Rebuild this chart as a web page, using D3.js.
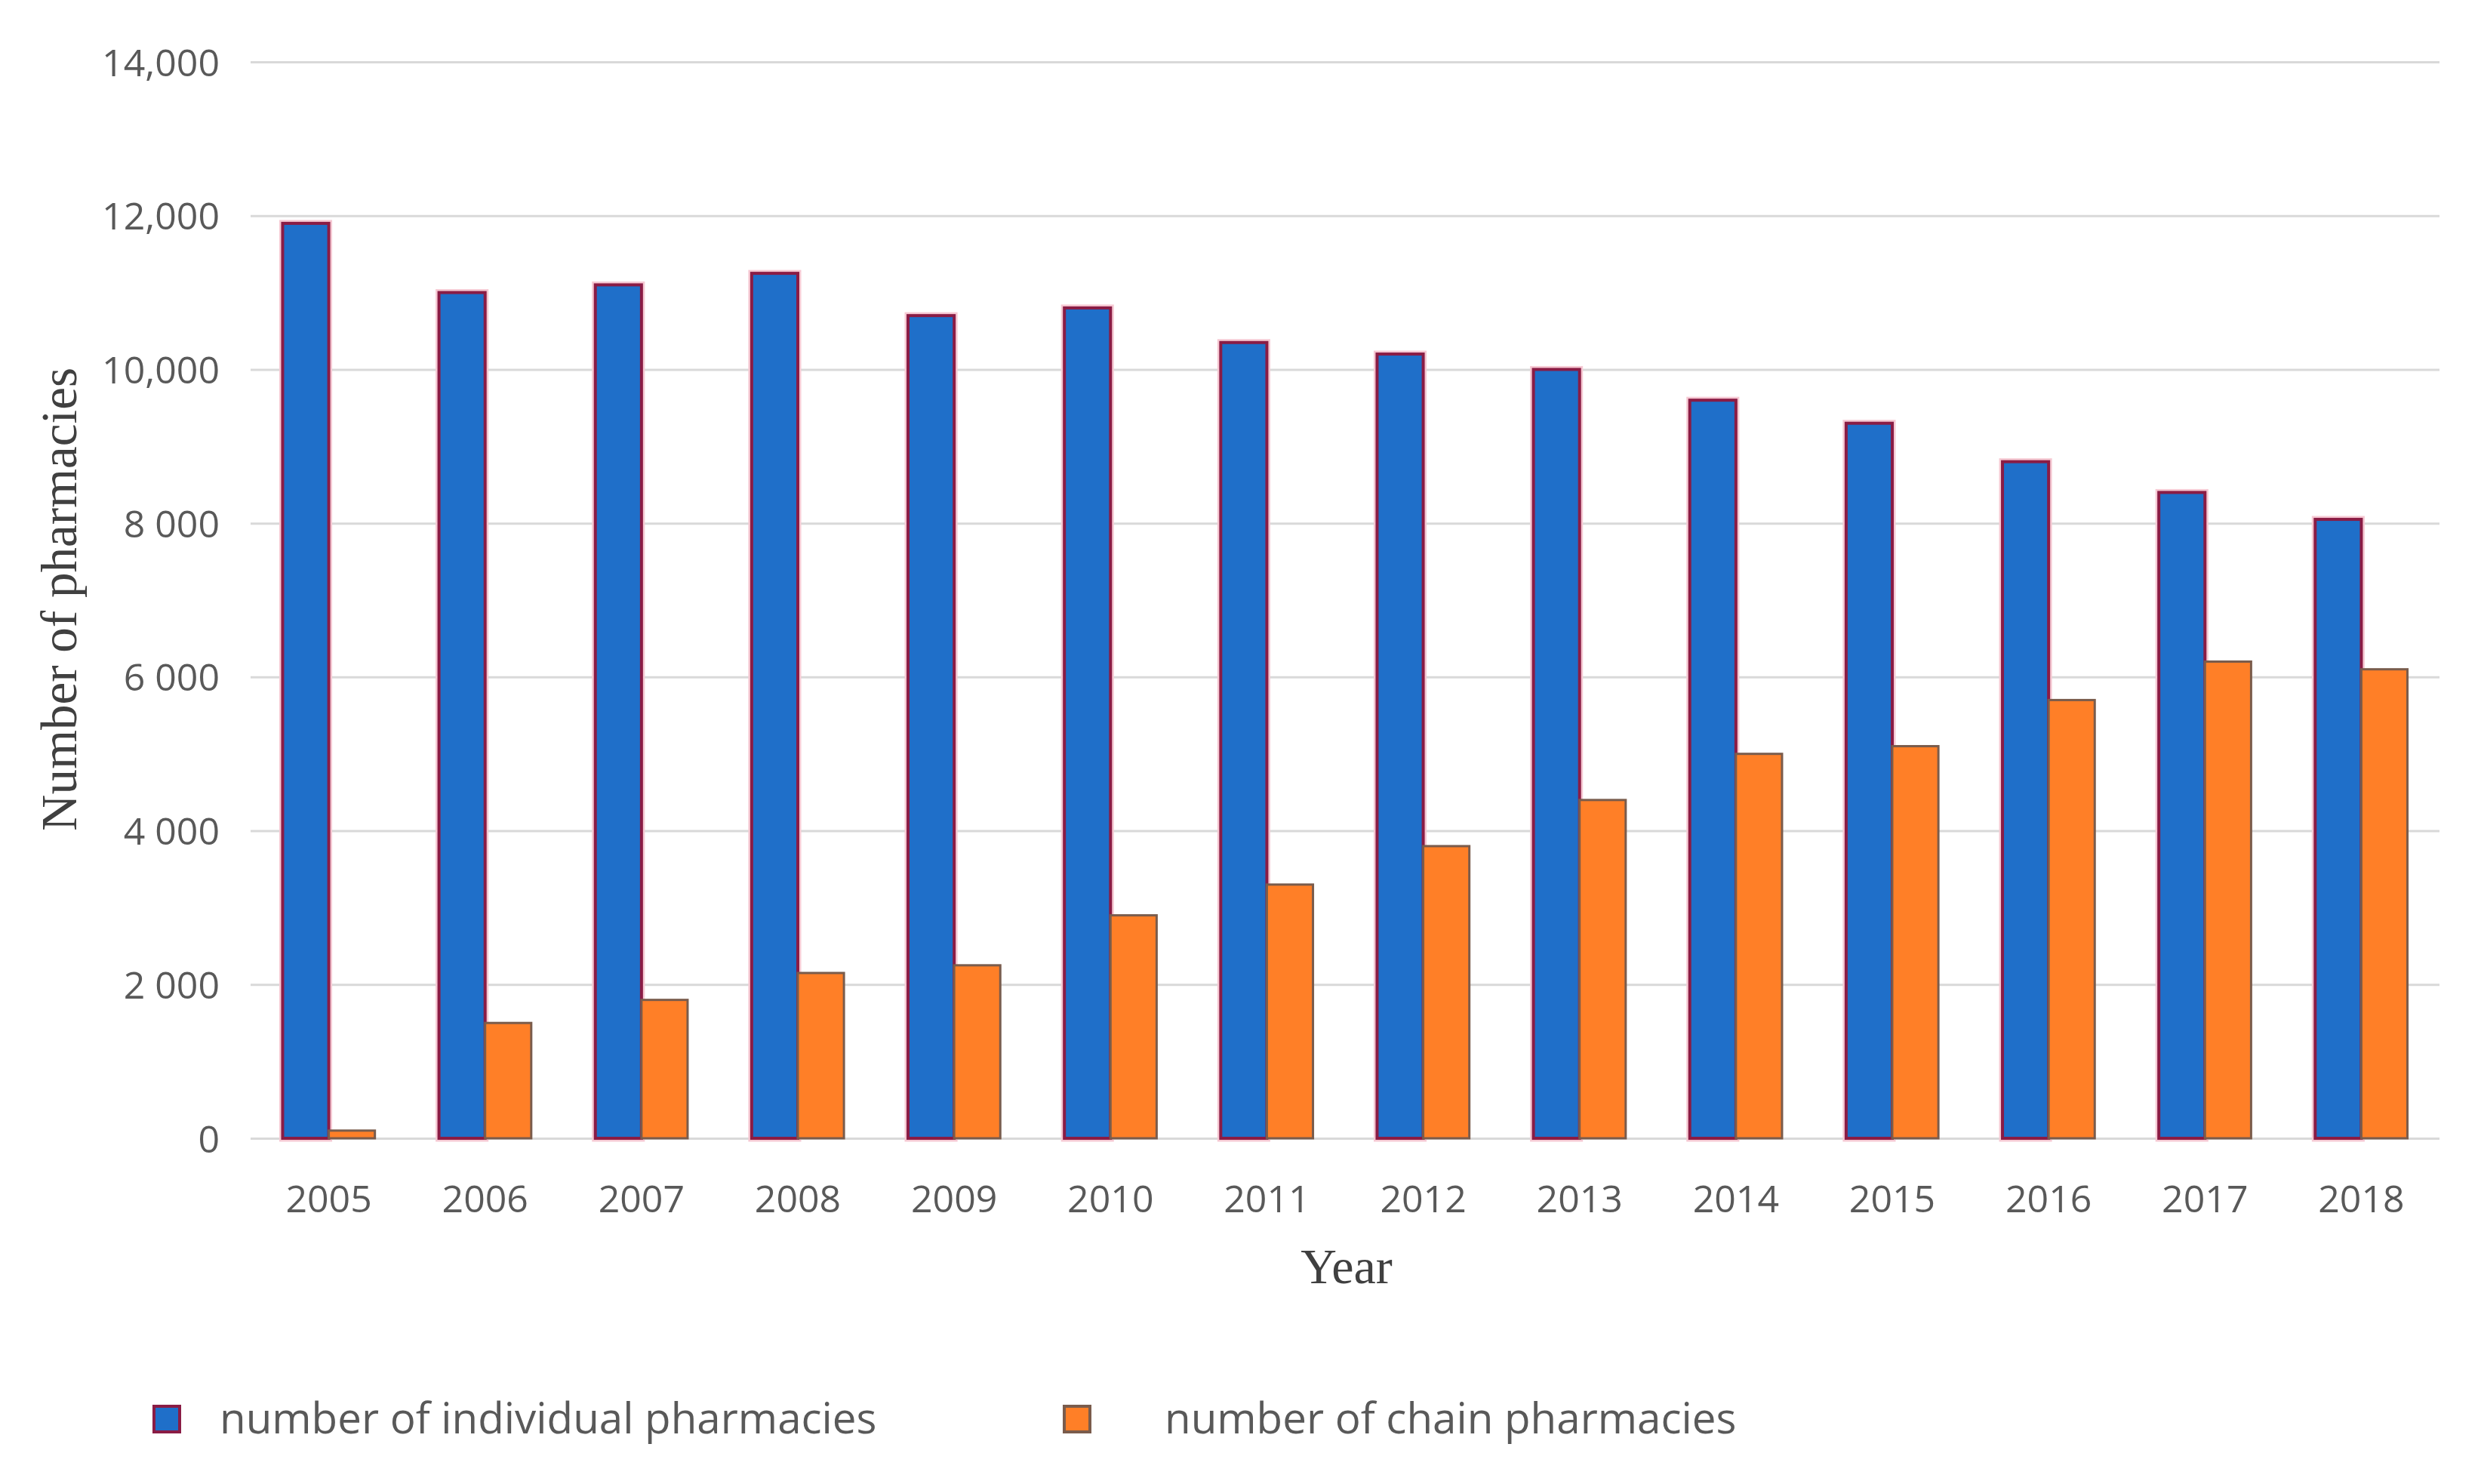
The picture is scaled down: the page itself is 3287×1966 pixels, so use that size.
<!DOCTYPE html>
<html>
<head>
<meta charset="utf-8">
<script src="https://cdn.jsdelivr.net/npm/d3@7"></script>
<style>
  html, body { margin: 0; padding: 0; background: #ffffff; }
  svg { display: block; }
</style>
</head>
<body>
<svg id="chart" width="3287" height="1966"></svg>
<script>
// ---- data ----
const years = ["2005","2006","2007","2008","2009","2010","2011","2012","2013","2014","2015","2016","2017","2018"];
const individualPharmacies = [11900, 11000, 11100, 11250, 10700, 10800, 10350, 10200, 10000, 9600, 9300, 8800, 8400, 8050];
const chainPharmacies = [100, 1500, 1800, 2150, 2250, 2900, 3300, 3800, 4400, 5000, 5100, 5700, 6200, 6100];
const yTickValues = [0, 2000, 4000, 6000, 8000, 10000, 12000, 14000];
const yTickLabels = ["0", "2 000", "4 000", "6 000", "8 000", "10,000", "12,000", "14,000"];
const seriesNames = ["number of individual pharmacies", "number of chain pharmacies"];
const yTitle = "Number of pharmacies";
const xTitle = "Year";

// ---- layout ----
const W = 3287, H = 1966;
const plot = { left: 332, right: 3232, top: 82, bottom: 1508 };
const blue = "#1f6fc9", blueStroke = "#8a1c45";
const orange = "#ff7f27", orangeStroke = "#7a5c4c";
const tickFont = "'Open Sans', 'Segoe UI', sans-serif";
const serif = "'Liberation Serif', 'Times New Roman', serif";

const svg = d3.select("#chart");

const x = d3.scaleBand().domain(years).range([plot.left, plot.right]).paddingInner(0).paddingOuter(0);
const groupPad = 0.205; // fraction of band on each side
const x1 = d3.scaleBand().domain([0, 1])
  .range([x.bandwidth() * groupPad, x.bandwidth() * (1 - groupPad)]).padding(0);
const y = d3.scaleLinear().domain([0, 14000]).range([plot.bottom, plot.top]);

// gridlines + y labels
const yAxis = d3.axisLeft(y)
  .tickValues(yTickValues)
  .tickSize(-(plot.right - plot.left))
  .tickFormat((d, i) => yTickLabels[i]);
const gy = svg.append("g").attr("transform", `translate(${plot.left},0)`).call(yAxis);
gy.select(".domain").remove();
gy.selectAll(".tick line").attr("stroke", "#d9d9d9").attr("stroke-width", 3);
gy.selectAll(".tick text")
  .attr("x", -41)
  .attr("dy", "0.36em")
  .attr("fill", "#595959")
  .style("font-family", tickFont)
  .style("font-size", "50px");

// x axis labels
const xAxis = d3.axisBottom(x).tickSize(0).tickPadding(0);
const gx = svg.append("g").attr("transform", `translate(0,${plot.bottom})`).call(xAxis);
gx.select(".domain").remove();
gx.selectAll(".tick text")
  .attr("y", 98)
  .attr("dy", 0)
  .attr("fill", "#595959")
  .style("font-family", tickFont)
  .style("font-size", "50px");

// bars
const rows = years.map((yr, i) => ({ year: yr, vals: [individualPharmacies[i], chainPharmacies[i]] }));
const groups = svg.append("g").selectAll("g").data(rows).join("g")
  .attr("transform", d => `translate(${x(d.year)},0)`);

// blue halo (pinkish glow)
groups.append("rect")
  .attr("x", x1(0))
  .attr("y", d => y(d.vals[0]))
  .attr("width", x1.bandwidth())
  .attr("height", d => y(0) - y(d.vals[0]))
  .attr("fill", blue)
  .attr("stroke", "#f6c9d3")
  .attr("stroke-width", 9);
groups.append("rect")
  .attr("x", x1(0))
  .attr("y", d => y(d.vals[0]))
  .attr("width", x1.bandwidth())
  .attr("height", d => y(0) - y(d.vals[0]))
  .attr("fill", blue)
  .attr("stroke", blueStroke)
  .attr("stroke-width", 4);
groups.append("rect")
  .attr("x", x1(1))
  .attr("y", d => y(d.vals[1]))
  .attr("width", x1.bandwidth())
  .attr("height", d => y(0) - y(d.vals[1]))
  .attr("fill", orange)
  .attr("stroke", orangeStroke)
  .attr("stroke-width", 3);

// axis titles
svg.append("text")
  .attr("transform", `translate(101,794) rotate(-90)`)
  .attr("text-anchor", "middle")
  .attr("fill", "#404040")
  .style("font-family", serif)
  .style("font-size", "67px")
  .text(yTitle);

svg.append("text")
  .attr("x", 1784)
  .attr("y", 1700)
  .attr("text-anchor", "middle")
  .attr("fill", "#404040")
  .style("font-family", serif)
  .style("font-size", "66px")
  .text(xTitle);

// legend
const legendItems = [
  { name: seriesNames[0], fill: blue, stroke: blueStroke, sx: 204, tx: 291 },
  { name: seriesNames[1], fill: orange, stroke: orangeStroke, sx: 1410, tx: 1543 }
];
const lg = svg.append("g").selectAll("g").data(legendItems).join("g");
lg.append("rect")
  .attr("x", d => d.sx).attr("y", 1863)
  .attr("width", 34).attr("height", 34)
  .attr("fill", d => d.fill)
  .attr("stroke", d => d.stroke)
  .attr("stroke-width", 4);
lg.append("text")
  .attr("x", d => d.tx).attr("y", 1899)
  .attr("fill", "#595959")
  .style("font-family", tickFont)
  .style("font-size", "56.5px")
  .text(d => d.name);
</script>
</body>
</html>
